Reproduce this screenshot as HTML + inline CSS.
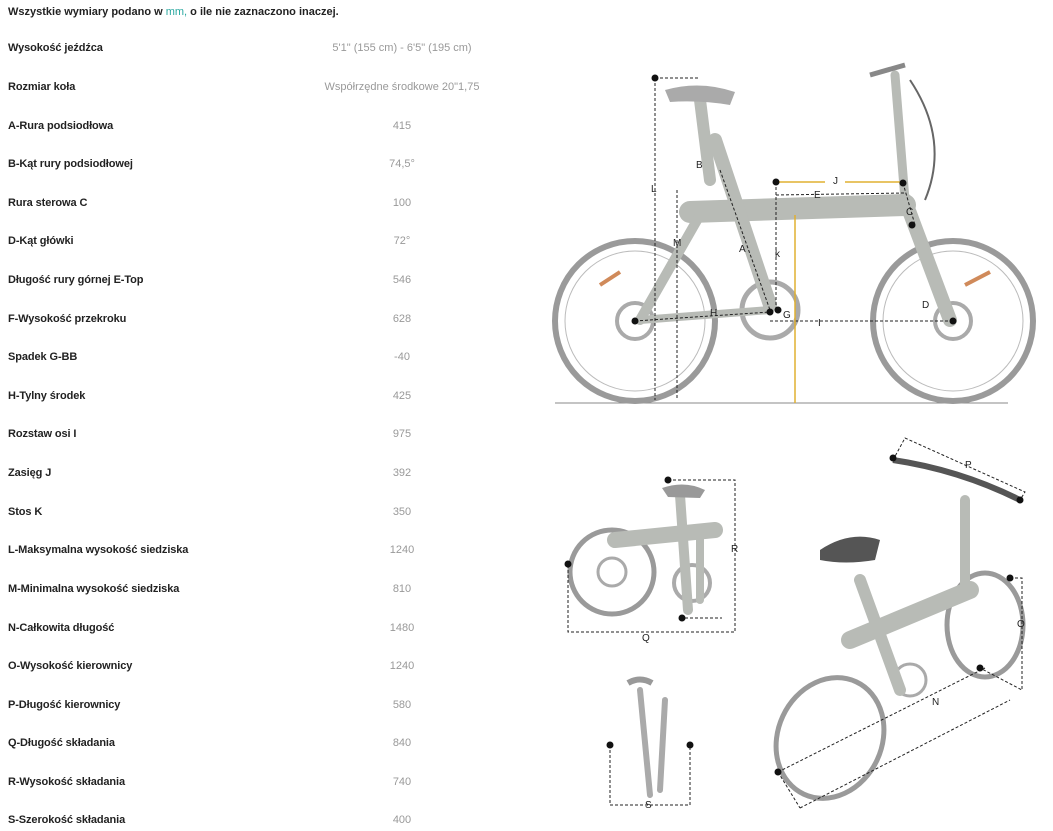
<!DOCTYPE html>
<html><head><meta charset="utf-8"><style>
body{margin:0;width:1053px;height:831px;background:#fff;position:relative;overflow:hidden;font-family:"Liberation Sans",sans-serif}
.h{position:absolute;left:8px;top:6px;font-size:11px;font-weight:bold;color:#222}
.h span{color:#2aa8a0;font-weight:normal}
.r{position:absolute;left:8px;font-size:11px;color:#222;font-weight:bold;letter-spacing:-0.1px}
.v{position:absolute;width:300px;left:252px;text-align:center;font-size:11px;color:#999}
svg{position:absolute;left:0;top:0}
</style></head><body>
<div class="h">Wszystkie wymiary podano w <span>mm,</span> o ile nie zaznaczono inaczej.</div>
<div class="r" style="top:42px">Wysokość jeźdźca</div><div class="v" style="top:42px">5'1" (155 cm) - 6'5" (195 cm)</div>
<div class="r" style="top:81px">Rozmiar koła</div><div class="v" style="top:81px">Współrzędne środkowe 20"1,75</div>
<div class="r" style="top:120px">A-Rura podsiodłowa</div><div class="v" style="top:120px">415</div>
<div class="r" style="top:158px">B-Kąt rury podsiodłowej</div><div class="v" style="top:158px">74,5°</div>
<div class="r" style="top:197px">Rura sterowa C</div><div class="v" style="top:197px">100</div>
<div class="r" style="top:235px">D-Kąt główki</div><div class="v" style="top:235px">72°</div>
<div class="r" style="top:274px">Długość rury górnej E-Top</div><div class="v" style="top:274px">546</div>
<div class="r" style="top:313px">F-Wysokość przekroku</div><div class="v" style="top:313px">628</div>
<div class="r" style="top:351px">Spadek G-BB</div><div class="v" style="top:351px">-40</div>
<div class="r" style="top:390px">H-Tylny środek</div><div class="v" style="top:390px">425</div>
<div class="r" style="top:428px">Rozstaw osi I</div><div class="v" style="top:428px">975</div>
<div class="r" style="top:467px">Zasięg J</div><div class="v" style="top:467px">392</div>
<div class="r" style="top:506px">Stos K</div><div class="v" style="top:506px">350</div>
<div class="r" style="top:544px">L-Maksymalna wysokość siedziska</div><div class="v" style="top:544px">1240</div>
<div class="r" style="top:583px">M-Minimalna wysokość siedziska</div><div class="v" style="top:583px">810</div>
<div class="r" style="top:622px">N-Całkowita długość</div><div class="v" style="top:622px">1480</div>
<div class="r" style="top:660px">O-Wysokość kierownicy</div><div class="v" style="top:660px">1240</div>
<div class="r" style="top:699px">P-Długość kierownicy</div><div class="v" style="top:699px">580</div>
<div class="r" style="top:737px">Q-Długość składania</div><div class="v" style="top:737px">840</div>
<div class="r" style="top:776px">R-Wysokość składania</div><div class="v" style="top:776px">740</div>
<div class="r" style="top:814px">S-Szerokość składania</div><div class="v" style="top:814px">400</div>

<svg width="1053" height="831" font-family="Liberation Sans" font-size="10" fill="none">
<line x1="555" y1="403" x2="1008" y2="403" stroke="#888"/>
<g stroke="#999">
<circle cx="635" cy="321" r="80" stroke-width="6" stroke="#9a9a9a"/>
<circle cx="635" cy="321" r="70" stroke-width="1" stroke="#bbb"/>
<circle cx="953" cy="321" r="80" stroke-width="6" stroke="#9a9a9a"/>
<circle cx="953" cy="321" r="70" stroke-width="1" stroke="#bbb"/>
<circle cx="770" cy="310" r="28" stroke-width="5" stroke="#aaa"/>
<circle cx="635" cy="321" r="18" stroke-width="4" stroke="#aaa"/>
<circle cx="953" cy="321" r="18" stroke-width="4" stroke="#aaa"/>
</g>
<g stroke="#b8bbb6" stroke-linecap="round">
<line x1="690" y1="212" x2="905" y2="205" stroke-width="22"/>
<line x1="715" y1="140" x2="770" y2="305" stroke-width="14"/>
<line x1="700" y1="215" x2="640" y2="320" stroke-width="10"/>
<line x1="640" y1="320" x2="770" y2="310" stroke-width="8"/>
<line x1="905" y1="200" x2="950" y2="320" stroke-width="14"/>
<line x1="895" y1="75" x2="905" y2="200" stroke-width="9"/>
<line x1="700" y1="100" x2="710" y2="180" stroke-width="12"/>
</g>
<path d="M665 90 Q700 80 735 92 L730 105 Q700 100 670 102Z" fill="#aaa"/>
<path d="M870 75 L905 65" stroke="#888" stroke-width="5"/>
<path d="M910 80 Q950 140 925 200" stroke="#666" stroke-width="2"/>
<path d="M600 285 L620 272" stroke="#d08a5a" stroke-width="4"/>
<path d="M965 285 L990 272" stroke="#d08a5a" stroke-width="4"/>
<g stroke="#222" stroke-dasharray="3,2">
<line x1="655" y1="78" x2="655" y2="400"/>
<line x1="655" y1="78" x2="700" y2="78"/>
<line x1="677" y1="190" x2="677" y2="400"/>
<line x1="635" y1="321" x2="770" y2="312"/>
<line x1="770" y1="321" x2="953" y2="321"/>
<line x1="776" y1="182" x2="776" y2="310"/>
<line x1="776" y1="195" x2="905" y2="193"/>
<line x1="720" y1="170" x2="770" y2="310"/>
<line x1="903" y1="183" x2="915" y2="225"/>
</g>
<g stroke="#e0b030" stroke-width="1.5">
<line x1="795" y1="215" x2="795" y2="403"/>
<line x1="776" y1="182" x2="825" y2="182"/>
<line x1="845" y1="182" x2="903" y2="182"/>
</g>
<g fill="#111">
<circle cx="655" cy="78" r="3.5"/><circle cx="776" cy="182" r="3.5"/><circle cx="903" cy="183" r="3.5"/>
<circle cx="635" cy="321" r="3.5"/><circle cx="770" cy="312" r="3.5"/><circle cx="953" cy="321" r="3.5"/>
<circle cx="912" cy="225" r="3.5"/><circle cx="778" cy="310" r="3.5"/>
</g>
<g fill="#222" stroke="none" font-size="10">
<text x="651" y="192">L</text><text x="673" y="246">M</text><text x="696" y="168">B</text>
<text x="739" y="252">A</text><text x="833" y="184">J</text><text x="814" y="198">E</text>
<text x="906" y="215">C</text><text x="775" y="257">k</text><text x="710" y="316">H</text>
<text x="783" y="318">G</text><text x="818" y="326">I</text><text x="922" y="308">D</text>
</g>
<circle cx="612" cy="572" r="42" stroke="#9a9a9a" stroke-width="5"/>
<circle cx="612" cy="572" r="14" stroke="#aaa" stroke-width="3"/>
<circle cx="692" cy="583" r="18" stroke="#aaa" stroke-width="4"/>
<g stroke="#b8bbb6" stroke-linecap="round">
<line x1="615" y1="540" x2="715" y2="530" stroke-width="16"/>
<line x1="680" y1="495" x2="688" y2="610" stroke-width="10"/>
<line x1="700" y1="530" x2="700" y2="600" stroke-width="8"/>
</g>
<path d="M662 488 Q685 480 705 490 L700 498 L668 497Z" fill="#999"/>
<g stroke="#222" stroke-dasharray="3,2">
<polyline points="668,480 735,480 735,632 568,632 568,564"/>
<line x1="680" y1="618" x2="722" y2="618"/>
</g>
<g fill="#111"><circle cx="668" cy="480" r="3.5"/><circle cx="568" cy="564" r="3.5"/><circle cx="682" cy="618" r="3.5"/></g>
<g fill="#222" stroke="none"><text x="731" y="552">R</text><text x="642" y="641">Q</text></g>
<g stroke="#aaa" stroke-width="6" stroke-linecap="round">
<line x1="640" y1="690" x2="650" y2="795"/><line x1="665" y1="700" x2="660" y2="790"/>
</g>
<path d="M628 683 Q640 676 652 683" stroke="#999" stroke-width="6"/>
<g stroke="#222" stroke-dasharray="3,2">
<polyline points="610,745 610,805 690,805 690,745"/>
</g>
<g fill="#111"><circle cx="610" cy="745" r="3.5"/><circle cx="690" cy="745" r="3.5"/></g>
<text x="645" y="808" fill="#222" stroke="none">S</text>
<ellipse cx="830" cy="738" rx="52" ry="62" stroke="#9a9a9a" stroke-width="5" transform="rotate(25 830 738)"/>
<ellipse cx="985" cy="625" rx="38" ry="52" stroke="#9a9a9a" stroke-width="5"/>
<circle cx="910" cy="680" r="16" stroke="#aaa" stroke-width="3"/>
<g stroke="#b8bbb6" stroke-linecap="round">
<line x1="850" y1="640" x2="970" y2="590" stroke-width="18"/>
<line x1="860" y1="580" x2="900" y2="690" stroke-width="12"/>
<line x1="965" y1="500" x2="965" y2="590" stroke-width="10"/>
</g>
<path d="M820 550 Q850 530 880 540 L875 560 Q845 565 820 560Z" fill="#555"/>
<path d="M893 460 Q960 470 1020 500" stroke="#555" stroke-width="6"/>
<g stroke="#222" stroke-dasharray="3,2">
<polyline points="893,460 905,438 1025,492 1020,500"/>
<polyline points="1010,578 1022,578 1022,690 980,668"/>
<line x1="778" y1="772" x2="985" y2="668"/>
<line x1="778" y1="772" x2="800" y2="808"/>
<line x1="800" y1="808" x2="1010" y2="700"/>
</g>
<g fill="#111"><circle cx="893" cy="458" r="3.5"/><circle cx="1020" cy="500" r="3.5"/><circle cx="1010" cy="578" r="3.5"/><circle cx="980" cy="668" r="3.5"/><circle cx="778" cy="772" r="3.5"/></g>
<g fill="#222" stroke="none"><text x="965" y="468">P</text><text x="1017" y="627">O</text><text x="932" y="705">N</text></g>
</svg>
</body></html>
